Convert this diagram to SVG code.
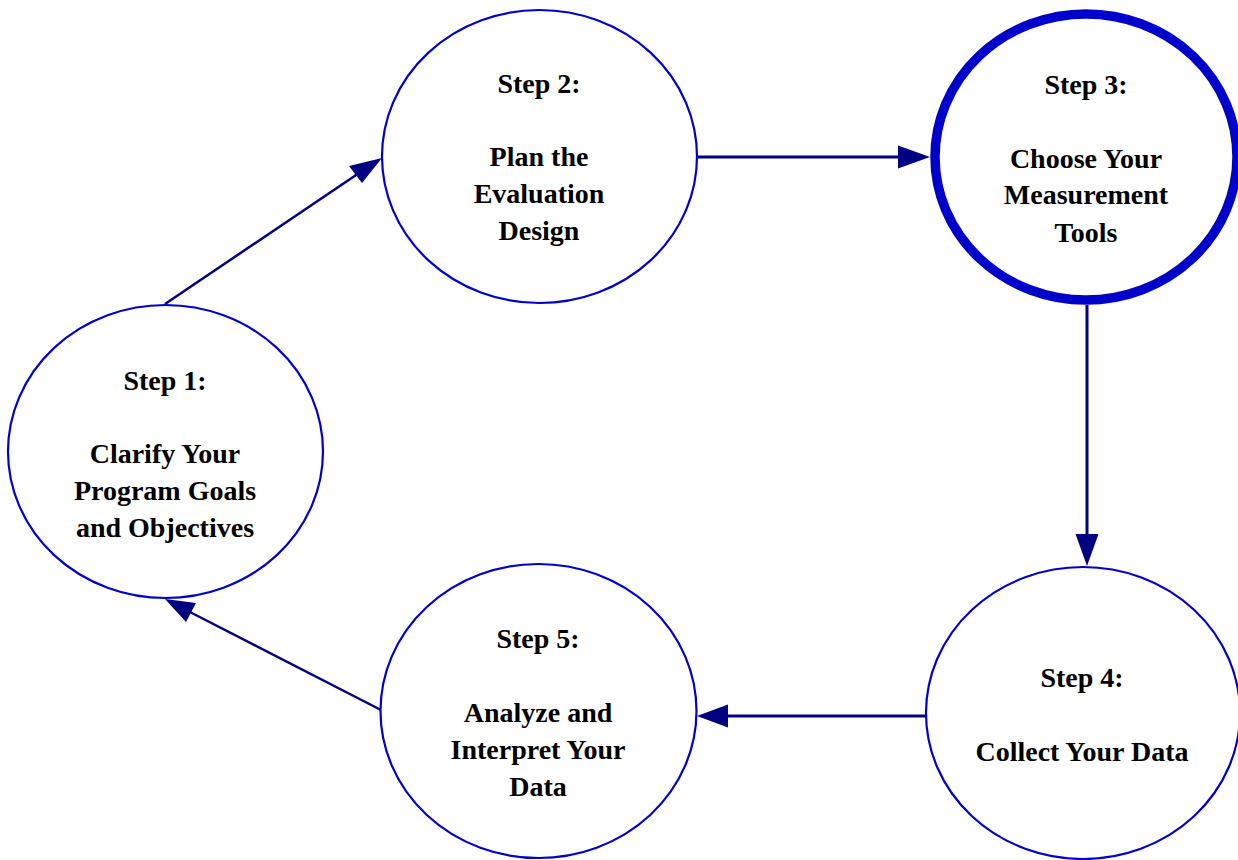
<svg xmlns="http://www.w3.org/2000/svg" width="1238" height="860" viewBox="0 0 1238 860">
<style>
.node{fill:#fff;stroke:#0000cc;stroke-width:2.2}
.thick{stroke-width:9.5}
.lbl{font-family:"Liberation Serif","Times New Roman",serif;font-weight:bold;font-size:28px;fill:#000;text-anchor:middle}
.conn{stroke:#000080;fill:none}
.head{fill:#000080}
</style>
<rect width="1238" height="860" fill="#fff"/>
<g id="connectors">
<line class="conn" x1="165" y1="304" x2="362" y2="171" stroke-width="2.5"/>
<polygon class="head" points="382,158 349,166 362,183"/>
<line class="conn" x1="697" y1="157" x2="900" y2="157" stroke-width="3"/>
<polygon class="head" points="930,157 898,145.5 898,168.5"/>
<line class="conn" x1="1087" y1="305" x2="1087" y2="536" stroke-width="3"/>
<polygon class="head" points="1087,566 1075.5,534 1098.5,534"/>
<line class="conn" x1="926" y1="716" x2="726" y2="716" stroke-width="3"/>
<polygon class="head" points="697,716 728,704.5 728,727.5"/>
<line class="conn" x1="381" y1="710" x2="186" y2="610" stroke-width="2.5"/>
<polygon class="head" points="165,599 196,603 186,622"/>
</g>
<g id="step1">
<ellipse class="node" cx="165.5" cy="451.5" rx="157.5" ry="146.5"/>
<text class="lbl" x="165" y="390">Step 1:</text>
<text class="lbl" x="165" y="463">Clarify Your</text>
<text class="lbl" x="165" y="500">Program Goals</text>
<text class="lbl" x="165" y="537">and Objectives</text>
</g>
<g id="step2">
<ellipse class="node" cx="539.5" cy="156.5" rx="157.5" ry="146.5"/>
<text class="lbl" x="539" y="93">Step 2:</text>
<text class="lbl" x="539" y="166">Plan the</text>
<text class="lbl" x="539" y="203">Evaluation</text>
<text class="lbl" x="539" y="240">Design</text>
</g>
<g id="step3">
<ellipse class="node thick" cx="1086" cy="157" rx="151" ry="143"/>
<text class="lbl" x="1086" y="94">Step 3:</text>
<text class="lbl" x="1086" y="168">Choose Your</text>
<text class="lbl" x="1086" y="204">Measurement</text>
<text class="lbl" x="1086" y="242">Tools</text>
</g>
<g id="step4">
<ellipse class="node" cx="1083" cy="713" rx="157" ry="146"/>
<text class="lbl" x="1082" y="687">Step 4:</text>
<text class="lbl" x="1082" y="761">Collect Your Data</text>
</g>
<g id="step5">
<ellipse class="node" cx="538.5" cy="711" rx="158" ry="147"/>
<text class="lbl" x="538" y="648">Step 5:</text>
<text class="lbl" x="538" y="722">Analyze and</text>
<text class="lbl" x="538" y="759">Interpret Your</text>
<text class="lbl" x="538" y="796">Data</text>
</g>
</svg>
